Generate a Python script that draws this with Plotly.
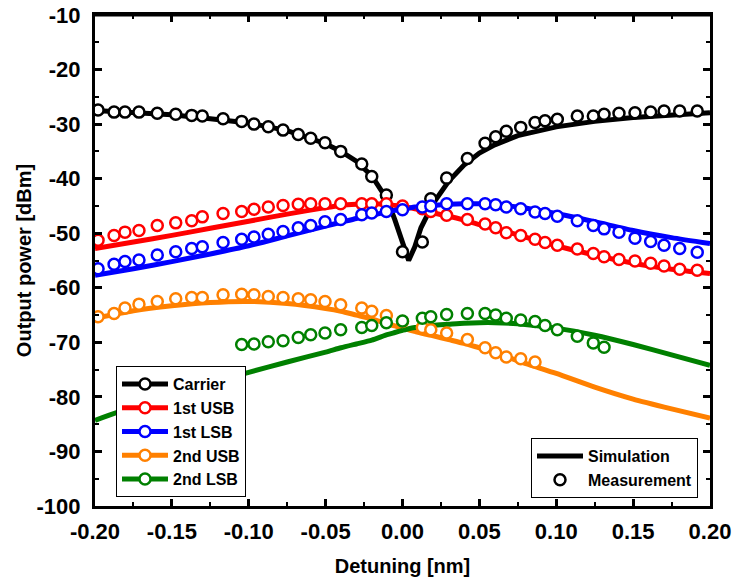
import plotly.graph_objects as go

# ---------------- data ----------------
sim_x = [-0.2, -0.175, -0.15, -0.125, -0.1, -0.075, -0.05, -0.04, -0.03, -0.02, -0.01, -0.005,
         0.0, 0.004, 0.008, 0.012, 0.02, 0.03, 0.04, 0.05, 0.06, 0.075, 0.1, 0.125, 0.15, 0.175, 0.2]
sim_carrier = [-27.5, -27.8, -28.3, -29.0, -29.8, -31.2, -33.6, -35.0, -36.8, -39.5, -43.8, -47.5,
               -52.0, -55.0, -52.5, -49.0, -44.5, -40.5, -37.5, -35.3, -33.8, -32.1, -30.5, -29.5, -28.8, -28.3, -27.9]
sim_1usb = [-52.8, -51.6, -50.4, -49.1, -47.8, -46.5, -45.3, -44.9, -44.7, -44.6, -44.7, -44.9,
            -45.1, -45.3, -45.5, -45.7, -46.3, -46.9, -47.6, -48.4, -49.1, -50.3, -52.3, -54.0, -55.5, -56.6, -57.4]
sim_1lsb = [-57.7, -56.5, -55.2, -53.8, -52.3, -50.5, -48.7, -48.0, -47.3, -46.7, -46.1, -45.8,
            -45.6, -45.4, -45.2, -45.1, -44.9, -44.7, -44.6, -44.6, -44.7, -45.2, -46.4, -47.9, -49.5, -50.8, -51.9]
sim_2usb = [-65.6, -64.2, -63.3, -62.7, -62.5, -62.9, -63.8, -64.3, -65.0, -65.7, -66.6, -67.0,
            -67.5, -67.7, -68.0, -68.3, -68.8, -69.5, -70.2, -71.0, -71.8, -73.4, -75.7, -78.2, -80.4, -82.2, -83.9]
sim_2lsb = [-84.3, -81.8, -79.5, -77.4, -75.5, -73.6, -71.8, -71.0, -70.3, -69.6, -68.6, -68.2,
            -67.8, -67.5, -67.3, -67.2, -66.9, -66.7, -66.5, -66.4, -66.4, -66.6, -67.4, -68.7, -70.4, -72.3, -74.2]

meas_x = [-0.198, -0.1876, -0.1805, -0.1714, -0.1595, -0.1475, -0.1371, -0.1302, -0.1167, -0.1046,
          -0.0966, -0.0873, -0.0777, -0.0678, -0.0597, -0.0504, -0.0402, -0.0265, -0.0200, -0.0105,
          0.0, 0.0129, 0.0184, 0.0287, 0.0422, 0.0537, 0.0606, 0.0675, 0.0769, 0.0862,
          0.0927, 0.1007, 0.1137, 0.1241, 0.1311, 0.1408, 0.1512, 0.1614, 0.1701, 0.1803, 0.1917]
meas_carrier = [-27.4, -27.8, -27.8, -27.8, -28.0, -28.2, -28.4, -28.5, -29.0, -29.5,
                -30.0, -30.5, -31.1, -31.9, -32.6, -33.4, -35.0, -37.3, -39.6, -43.0,
                -53.4, -51.6, -43.7, -39.9, -36.3, -33.5, -32.3, -31.3, -30.6, -29.7,
                -29.4, -29.1, -28.5, -28.5, -28.2, -28.0, -27.9, -27.8, -27.6, -27.6, -27.6]
meas_1usb = [-51.3, -50.4, -49.8, -49.5, -48.6, -48.1, -47.7, -47.0, -46.4, -46.0,
             -45.6, -45.2, -44.9, -44.7, -44.6, -44.6, -44.6, -44.6, -44.6, -44.6,
             -45.0, -45.5, -46.0, -46.7, -47.5, -48.3, -49.0, -49.9, -50.4, -51.1,
             -51.7, -52.2, -52.9, -53.7, -54.3, -54.8, -55.1, -55.5, -56.0, -56.6, -56.8]
meas_1lsb = [-56.5, -55.7, -55.2, -54.9, -54.0, -53.4, -52.8, -52.5, -51.7, -51.1,
             -50.7, -50.2, -49.7, -49.0, -48.6, -47.9, -47.5, -46.6, -46.3, -46.0,
             -45.7, -45.2, -45.0, -44.6, -44.6, -44.6, -44.8, -45.2, -45.5, -46.1,
             -46.4, -46.9, -47.7, -48.6, -49.2, -49.8, -50.9, -51.5, -52.2, -52.8, -53.5]
meas_2usb = [-65.3, -64.7, -63.7, -63.0, -62.5, -62.0, -61.8, -61.8, -61.3, -61.2,
             -61.3, -61.6, -61.8, -62.0, -62.2, -62.5, -63.1, -63.7, -64.3, -65.1,
             -66.2, -67.3, -67.7, -68.3, -69.5, -71.0, -71.9, -72.7, -73.0, -73.6,
             None, None, None, None, None, None, None, None, None, None, None]
meas_2lsb = [None, None, None, None, None, None, None, None, None, -70.4,
             -70.3, -69.9, -69.7, -69.1, -68.6, -68.3, -67.7, -67.3, -66.9, -66.4,
             -66.1, -65.6, -65.3, -64.9, -64.7, -64.7, -65.0, -65.6, -65.9, -66.2,
             -66.9, -67.7, -68.9, -70.1, -70.9, None, None, None, None, None, None]

series_names = ["Carrier", "1st USB", "1st LSB", "2nd USB", "2nd LSB"]
sim_values = [sim_carrier, sim_1usb, sim_1lsb, sim_2usb, sim_2lsb]
meas_values = [meas_carrier, meas_1usb, meas_1lsb, meas_2usb, meas_2lsb]
colors = ["#000000", "#FF0000", "#0000FF", "#FF8000", "#008000"]

x_ticks = [-0.20, -0.15, -0.10, -0.05, 0.00, 0.05, 0.10, 0.15, 0.20]
x_ticklabels = ["-0.20", "-0.15", "-0.10", "-0.05", "0.00", "0.05", "0.10", "0.15", "0.20"]
y_ticks = [-10, -20, -30, -40, -50, -60, -70, -80, -90, -100]
y_ticklabels = ["-10", "-20", "-30", "-40", "-50", "-60", "-70", "-80", "-90", "-100"]

# ---------------- figure ----------------
FONT = "Liberation Sans"
LW = 5
MS = 11
MLW = 2.5

fig = go.Figure()

for name, ys, col in zip(series_names, sim_values, colors):
    fig.add_trace(go.Scatter(x=sim_x, y=ys, mode="lines",
                             line=dict(color=col, width=LW, shape="linear" if name == "Carrier" else "spline",
                                       smoothing=0.6),
                             showlegend=False, hoverinfo="skip"))

for name, ys, col in zip(series_names, meas_values, colors):
    fig.add_trace(go.Scatter(x=meas_x, y=ys, mode="markers",
                             marker=dict(symbol="circle", size=MS, color="white",
                                         line=dict(color=col, width=MLW)),
                             showlegend=False))

# legend entries (series)
for name, col in zip(series_names, colors):
    fig.add_trace(go.Scatter(x=[None], y=[None], mode="lines+markers", name=name,
                             line=dict(color=col, width=LW),
                             marker=dict(symbol="circle", size=MS, color="white",
                                         line=dict(color=col, width=MLW)),
                             legend="legend"))

# legend entries (type)
fig.add_trace(go.Scatter(x=[None], y=[None], mode="lines", name="Simulation",
                         line=dict(color="black", width=LW), legend="legend2"))
fig.add_trace(go.Scatter(x=[None], y=[None], mode="markers", name="Measurement",
                         marker=dict(symbol="circle", size=MS, color="white",
                                     line=dict(color="black", width=MLW)),
                         legend="legend2"))

W, H = 734, 582
L, T = 95, 15
R = W - 710
B = H - 506
pw, ph = W - L - R, H - T - B


def px_x(p):
    return (p - L) / pw


def px_y(p):
    return (T + ph - p) / ph


legend_common = dict(bgcolor="white", bordercolor="black", borderwidth=1,
                     font=dict(family=FONT, size=16, color="black", weight="bold"),
                     itemwidth=46, tracegroupgap=0, yanchor="bottom")

fig.update_layout(
    width=W, height=H, autosize=False,
    margin=dict(l=L, r=R, t=T, b=B, pad=0, autoexpand=False),
    paper_bgcolor="white", plot_bgcolor="white",
    font=dict(family=FONT, color="black"),
    showlegend=True,
    legend=dict(x=px_x(116), y=px_y(497), xanchor="left", **legend_common),
    legend2=dict(x=px_x(698), y=px_y(498), xanchor="right", **legend_common),
    xaxis=dict(range=[-0.2, 0.2], tickvals=x_ticks, ticktext=x_ticklabels, automargin=False,
               showline=True, linecolor="black", linewidth=3, mirror="ticks",
               ticks="inside", ticklen=7, tickwidth=2.5, tickcolor="black",
               minor=dict(ticks="inside", ticklen=4, tickwidth=2, dtick=0.025, tickcolor="black"),
               showgrid=False, zeroline=False, ticklabelstandoff=4,
               tickfont=dict(family=FONT, size=22, weight="bold"),
               title=dict(text="Detuning [nm]", font=dict(family=FONT, size=20, weight="bold"), standoff=16)),
    yaxis=dict(range=[-100, -10], tickvals=y_ticks, ticktext=y_ticklabels, automargin=False,
               showline=True, linecolor="black", linewidth=3, mirror="ticks",
               ticks="inside", ticklen=7, tickwidth=2.5, tickcolor="black",
               minor=dict(ticks="inside", ticklen=4, tickwidth=2, dtick=5, tickcolor="black"),
               showgrid=False, zeroline=False, ticklabelstandoff=7,
               tickfont=dict(family=FONT, size=22, weight="bold"),
               title=dict(text="Output power [dBm]", font=dict(family=FONT, size=20, weight="bold"), standoff=0)),
    shapes=[dict(type="line", xref="paper", yref="paper", x0=0, x1=1, y0=1, y1=1,
                 line=dict(color="black", width=3), layer="above")],
)

# remove the default 8px page margin so the figure sits at the window's top-left corner
fig.write_html("out.html", config={"displayModeBar": False},
               post_script="document.body.style.margin='0';")
